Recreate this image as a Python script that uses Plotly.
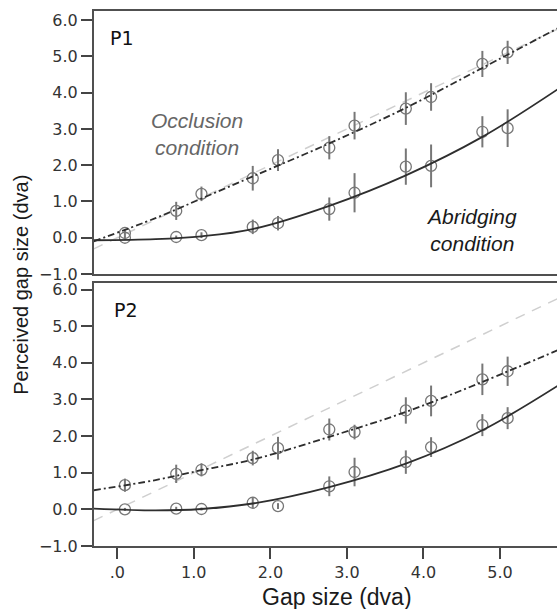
import plotly.graph_objects as go

# ---------------- data ----------------
gap = [0.1, 0.77, 1.1, 1.77, 2.1, 2.77, 3.1, 3.77, 4.1, 4.77, 5.1]

p1_occ = [0.13, 0.74, 1.21, 1.64, 2.14, 2.48, 3.09, 3.56, 3.88, 4.79, 5.11]
p1_occ_err = [0.08, 0.25, 0.20, 0.34, 0.30, 0.32, 0.38, 0.45, 0.38, 0.36, 0.32]
p1_abr = [0.0, 0.02, 0.07, 0.30, 0.40, 0.79, 1.24, 1.96, 1.98, 2.92, 3.02]
p1_abr_err = [0.06, 0.04, 0.08, 0.20, 0.20, 0.32, 0.54, 0.50, 0.59, 0.43, 0.52]

p2_occ = [0.66, 0.97, 1.08, 1.40, 1.67, 2.18, 2.11, 2.70, 2.96, 3.55, 3.77]
p2_occ_err = [0.18, 0.25, 0.18, 0.20, 0.31, 0.30, 0.20, 0.36, 0.42, 0.43, 0.40]
p2_abr = [0.0, 0.02, 0.01, 0.18, 0.09, 0.63, 1.02, 1.29, 1.70, 2.30, 2.49]
p2_abr_err = [0.04, 0.05, 0.04, 0.14, 0.08, 0.27, 0.39, 0.32, 0.27, 0.30, 0.30]

# fitted curves
fit_x = [-0.31, 0.5, 1.1, 1.77, 2.77, 3.77, 4.77, 5.76]
p1_occ_fit = [-0.10, 0.54, 1.08, 1.69, 2.60, 3.58, 4.68, 5.78]
p1_abr_fit = [-0.07, -0.04, 0.04, 0.24, 0.88, 1.72, 2.78, 4.10]
p2_occ_fit = [0.52, 0.80, 1.07, 1.36, 1.98, 2.66, 3.48, 4.35]
p2_abr_fit = [0.02, -0.03, 0.01, 0.16, 0.61, 1.25, 2.16, 3.38]

identity_x = [-0.31, 5.76]
identity_y = [-0.31, 5.76]

y_ticks = [-1, 0, 1, 2, 3, 4, 5, 6]
y_ticktext = ["\u22121.0", "0.0", "1.0", "2.0", "3.0", "4.0", "5.0", "6.0"]
x_ticks = [0, 1, 2, 3, 4, 5]
x_ticktext = [".0", "1.0", "2.0", "3.0", "4.0", "5.0"]

# ---------------- styles ----------------
PT_COLOR = "#777777"
LINE_COLOR = "#2e2e2e"
FRAME = "#505050"
TICKFONT = dict(family="DejaVu Sans", size=16, color="#333333")

fig = go.Figure()


def add_panel(xa, ya, occ, occ_err, abr, abr_err, occ_fit, abr_fit):
    fig.add_trace(go.Scatter(x=identity_x, y=identity_y, mode="lines", xaxis=xa, yaxis=ya,
                             line=dict(color="#cfcfcf", width=1.5, dash="10px,8px"),
                             showlegend=False, hoverinfo="skip"))
    for vals, errs in ((occ, occ_err), (abr, abr_err)):
        fig.add_trace(go.Scatter(
            x=gap, y=vals, mode="markers", xaxis=xa, yaxis=ya,
            marker=dict(symbol="circle-open", size=11, color=PT_COLOR, line=dict(width=1.3, color=PT_COLOR)),
            error_y=dict(type="data", array=errs, visible=True, color=PT_COLOR, thickness=2, width=0),
            showlegend=False))
    fig.add_trace(go.Scatter(x=fit_x, y=occ_fit, mode="lines", xaxis=xa, yaxis=ya,
                             line=dict(color=LINE_COLOR, width=1.8, dash="7px,3px,2px,3px", shape="spline"),
                             showlegend=False))
    fig.add_trace(go.Scatter(x=fit_x, y=abr_fit, mode="lines", xaxis=xa, yaxis=ya,
                             line=dict(color=LINE_COLOR, width=1.8, shape="spline"),
                             showlegend=False))


add_panel("x2", "y2", p1_occ, p1_occ_err, p1_abr, p1_abr_err, p1_occ_fit, p1_abr_fit)
add_panel("x", "y", p2_occ, p2_occ_err, p2_abr, p2_abr_err, p2_occ_fit, p2_abr_fit)

XR = [-0.304, 5.745]
common_y = dict(tickmode="array", tickvals=y_ticks, ticktext=y_ticktext, ticks="outside",
                ticklen=11, tickwidth=1.5, tickcolor="#444", tickfont=TICKFONT,
                showline=True, linecolor=FRAME, linewidth=2, showgrid=False, zeroline=False)

fig.update_layout(
    width=557, height=609,
    margin=dict(l=94, r=0, t=11, b=63),
    plot_bgcolor="white", paper_bgcolor="white",
    showlegend=False,
    xaxis=dict(range=XR, domain=[0, 1], anchor="y", tickmode="array", tickvals=x_ticks,
               ticktext=x_ticktext, ticks="outside", ticklen=11, tickwidth=1.5, tickcolor="#444",
               tickfont=TICKFONT, showline=True, mirror=True, linecolor=FRAME, linewidth=2,
               showgrid=False, zeroline=False),
    xaxis2=dict(range=XR, domain=[0, 1], anchor="y2", showticklabels=False, ticks="",
                showline=True, mirror=True, linecolor=FRAME, linewidth=2,
                showgrid=False, zeroline=False),
    yaxis=dict(range=[-1, 6.18], domain=[0, 0.4916], anchor="x", **common_y),
    yaxis2=dict(range=[-1, 6.25], domain=[0.5084, 1], anchor="x2", **common_y),
)

annotations = [
    dict(text="P1", x=-0.12, y=5.5, xref="x2", yref="y2", xanchor="left", yanchor="middle",
         showarrow=False, font=dict(family="DejaVu Sans", size=19, color="#111")),
    dict(text="P2", x=-0.07, y=5.45, xref="x", yref="y", xanchor="left", yanchor="middle",
         showarrow=False, font=dict(family="DejaVu Sans", size=19, color="#111")),
    dict(text="<i>Occlusion<br>condition</i>", x=1.04, y=2.87, xref="x2", yref="y2",
         xanchor="center", yanchor="middle", showarrow=False,
         font=dict(family="Liberation Sans", size=21, color="#666")),
    dict(text="<i>Abridging<br>condition</i>", x=4.63, y=0.20, xref="x2", yref="y2",
         xanchor="center", yanchor="middle", showarrow=False,
         font=dict(family="Liberation Sans", size=21, color="#1a1a1a")),
    dict(text="Perceived gap size (dva)", x=-0.158, y=0.488, xref="paper", yref="paper",
         xanchor="center", yanchor="middle", textangle=-90, showarrow=False,
         font=dict(family="Liberation Sans", size=20, color="#1a1a1a")),
    dict(text="Gap size (dva)", x=0.524, y=-0.095, xref="paper", yref="paper",
         xanchor="center", yanchor="middle", showarrow=False,
         font=dict(family="Liberation Sans", size=23, color="#1a1a1a")),
]
fig.update_layout(annotations=annotations)

# remove the default page margin / scrollbars so the figure sits at the window origin
fig.write_html("out.html",
               config={"displayModeBar": False},
               post_script="document.body.style.margin='0';document.body.style.overflow='hidden';")
